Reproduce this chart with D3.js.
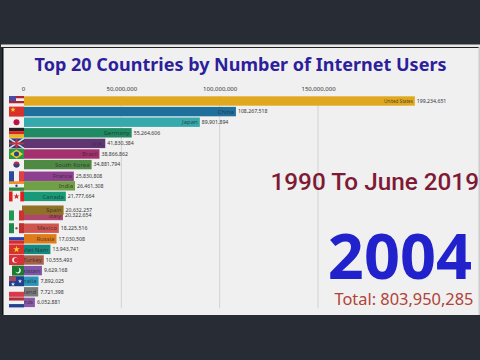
<!DOCTYPE html>
<html><head><meta charset="utf-8">
<script src="https://cdnjs.cloudflare.com/ajax/libs/d3/7.8.5/d3.min.js"></script>
<style>html,body{margin:0;padding:0;background:#282c35}svg{display:block}</style>
</head><body><svg id="c" width="480" height="360"></svg>
<script>
const countries=["United States","China","Japan","Germany","U.K.","Brazil","South Korea","France","India","Canada","Spain","Italy","Mexico","Russia","Viet Nam","Turkey","Pakistan","Australia","Poland","Netherlands"];
const users=[199234651,108267518,89901894,55264606,41830384,38866862,34881794,25830808,26461308,21777664,20632257,20322654,18225516,17030508,13943741,10555493,9629168,7892025,7721398,6052881];
const ranks=[0,1,2,3,4,5,6,7.1,8,9,10.3,10.8,12,13,14,15,16,17,18,19];
const barColors=["#e0a81e","#1f6f9c","#35a9ab","#1f8a63","#5f3572","#a5306e","#4f8a45","#8f3f8f","#6fa045","#179a78","#8f7228","#b0456e","#d0554f","#e07b1a","#15897f","#a8604a","#7f57a8","#2a94b8","#7a7a7a","#8a5aa8"];
const flagStripes=[["#b22234","#eee","#b22234","#eee"],["#d9302a"],["#f2f2f2"],["#222","#d22","#e8b820"],["#2a3a7a"],["#2a9a40"],["#f2f2f2"],["#2a4a9a","#f2f2f2","#e04040"],["#f09030","#f2f2f2","#2a8a40"],["#e02020","#f2f2f2","#f2f2f2","#e02020"],[],["#1f9a50","#f2f2f2","#d03030"],["#1f8a50","#f2f2f2","#c03030"],["#f2f2f2","#2a3fb0","#d82a2a"],["#d8302a"],["#d8303a"],["#1a7a30"],["#1f3f8f"],["#f2f2f2","#d83a4a"],["#b0303a","#f2f2f2","#25408f"]];
const verticalFlag=[0,0,0,0,0,0,0,1,0,1,0,1,1,0,0,0,0,0,0,0];
const axisTicks=[0,50000000,100000000,150000000];
const chartTitle="Top 20 Countries by Number of Internet Users";
const subtitle="1990 To June 2019";
const yearLabel="2004";
const totalLabel="Total: 803,950,285";

const svg=d3.select("#c");
const x=d3.scaleLinear().domain([0,150000000]).range([23,318]);
const y=d3.scaleLinear().domain([0,19]).range([101,302.4]);
const fmt=d3.format(",");
const font="'Noto Sans','Open Sans',sans-serif";

svg.append("defs").append("clipPath").attr("id","labelClip").append("rect")
 .attr("x",24).attr("y",-8).attr("width",456).attr("height",16);
svg.append("rect").attr("width",480).attr("height",360).attr("fill","#282c35");
svg.append("rect").attr("x",2).attr("y",45).attr("width",478).attr("height",270).attr("fill","#f0f0f0");
svg.append("rect").attr("x",1).attr("y",44.5).attr("width",479).attr("height",2.5).attr("fill","#e8e8e8");
svg.append("rect").attr("x",2).attr("y",47).attr("width",1.5).attr("height",268).attr("fill","#111");
svg.append("rect").attr("x",1.5).attr("y",47).attr("width",478).attr("height",1).attr("fill","#222");
svg.append("rect").attr("x",478.5).attr("y",47).attr("width",1.5).attr("height",268).attr("fill","#ccc");

const axis=d3.axisTop(x).tickValues(axisTicks).tickFormat(fmt).tickSize(0);
const ax=svg.append("g").attr("transform","translate(0,94)").call(axis);
ax.select(".domain").remove();
ax.selectAll("text").attr("font-family",font).attr("font-size",6).attr("fill","#333").attr("dy",0);
svg.append("g").selectAll("line").data(axisTicks.slice(1)).join("line")
 .attr("x1",d=>x(d)).attr("x2",d=>x(d)).attr("y1",96).attr("y2",308).attr("stroke","#d2d2d2").attr("stroke-width",1);

svg.append("text").attr("x",240.5).attr("y",70.5).attr("text-anchor","middle").attr("font-family",font)
 .attr("font-weight",700).attr("font-size",18).attr("fill","#2d1f9c").text(chartTitle);

const records=countries.map((c,i)=>({c,v:users[i],r:ranks[i],i})).reverse();
const rows=svg.append("g").selectAll("g").data(records).join("g")
 .attr("transform",d=>`translate(0,${y(d.r)})`);
rows.append("rect").attr("x",d=>d.i===10?x(0)-1:x(0)+1).attr("y",-4.7).attr("width",d=>x(d.v)-x(0)-(d.i===10?-1:1)).attr("height",9.4).attr("fill",d=>barColors[d.i]);
rows.append("text").attr("clip-path","url(#labelClip)").attr("x",d=>x(d.v)-2).attr("dy","0.35em").attr("text-anchor","end").attr("font-family",font)
 .attr("font-size",d=>d.v>150000000?4.6:d.i===19?5:6).attr("fill","#2a2a2a").attr("fill-opacity",.8).text(d=>d.c);
rows.append("text").attr("x",d=>x(d.v)+2).attr("dy","0.35em").attr("font-family",font)
 .attr("font-size",5.2).attr("fill","#333").text(d=>fmt(d.v));

const flags=svg.append("g").selectAll("g").data(records).join("g")
 .attr("transform",d=>`translate(0,${y(d.r)})`);
const fx=9,fw=15,fh=10;
const star=d3.symbol().type(d3.symbolStar);
flags.each(function(d){
  const g=d3.select(this), s=flagStripes[d.i], n=s.length;
  const left=d.i===16?fx+3:fx, w=fx+fw-left;
  s.forEach((col,k)=>{
    if(verticalFlag[d.i]) g.append("rect").attr("x",fx+k*fw/n).attr("y",-fh/2).attr("width",fw/n).attr("height",fh).attr("fill",col);
    else g.append("rect").attr("x",left).attr("y",-fh/2+k*fh/n).attr("width",w).attr("height",fh/n).attr("fill",col);
  });
  const sym=(cx,cy,size,col)=>g.append("path").attr("d",star.size(size)()).attr("transform",`translate(${cx},${cy})`).attr("fill",col);
  if(d.i===0) g.append("rect").attr("x",fx).attr("y",-fh/2).attr("width",7).attr("height",5).attr("fill","#4a4aa0");
  if(d.i===17){g.append("rect").attr("x",fx).attr("y",-fh/2).attr("width",7).attr("height",5).attr("fill","#a04a60");sym(fx+11,0,5,"#f2f2f2");sym(fx+4,3,5,"#f2f2f2");}
  if(d.i===2) g.append("circle").attr("cx",fx+7.5).attr("cy",0).attr("r",3).attr("fill","#c01040");
  if(d.i===4){g.append("path").attr("d",`M${fx},-5L${fx+15},5M${fx+15},-5L${fx},5`).attr("stroke","#ddd").attr("stroke-width",1.5);
    g.append("path").attr("d",`M${fx},0H${fx+15}M${fx+7.5},-5V5`).attr("stroke","#c8303a").attr("stroke-width",2);}
  if(d.i===5){g.append("path").attr("d",`M${fx+1},0L${fx+7.5},-4.5L${fx+14},0L${fx+7.5},4.5Z`).attr("fill","#f0d030");
    g.append("circle").attr("cx",fx+7.5).attr("cy",0).attr("r",2.5).attr("fill","#25408f");}
  if(d.i===6){g.append("circle").attr("cx",fx+7.5).attr("cy",0).attr("r",3).attr("fill","#b03040");
    g.append("path").attr("d",`M${fx+4.5},0A3,3 0 0 0 ${fx+10.5},0Z`).attr("fill","#25408f");}
  if(d.i===1) sym(fx+4,-2,9,"#f0d030");
  if(d.i===14) sym(fx+7.5,0,14,"#f0d030");
  if(d.i===8) g.append("circle").attr("cx",fx+7.5).attr("cy",0).attr("r",1.2).attr("fill","#2a3a7a");
  if(d.i===9) g.append("path").attr("d",star.size(12)()).attr("transform",`translate(${fx+7.5},0)`).attr("fill","#e02020");
  if(d.i===12) g.append("circle").attr("cx",fx+7.5).attr("cy",0).attr("r",1.2).attr("fill","#806030");
  if(d.i===15){g.append("circle").attr("cx",fx+6).attr("cy",0).attr("r",2.8).attr("fill","#f2f2f2");
    g.append("circle").attr("cx",fx+7).attr("cy",0).attr("r",2.2).attr("fill","#d8303a");}
  if(d.i===16){g.append("circle").attr("cx",fx+9).attr("cy",0).attr("r",2.8).attr("fill","#f2f2f2");
    g.append("circle").attr("cx",fx+8).attr("cy",-0.6).attr("r",2.4).attr("fill","#1a7a30");}
});

svg.append("text").attr("x",479).attr("y",190).attr("text-anchor","end").attr("font-family","Roboto,sans-serif")
 .attr("font-weight",500).attr("font-size",24.3).attr("fill","#7f1a35").text(subtitle);
svg.append("text").attr("x",472).attr("y",279).attr("text-anchor","end").attr("font-family",font)
 .attr("font-weight",700).attr("font-size",63).attr("fill","#2222cc").text(yearLabel);
svg.append("text").attr("x",473.5).attr("y",304.5).attr("text-anchor","end").attr("font-family",font)
 .attr("font-size",16.4).attr("fill","#b04238").text(totalLabel);
</script></body></html>
